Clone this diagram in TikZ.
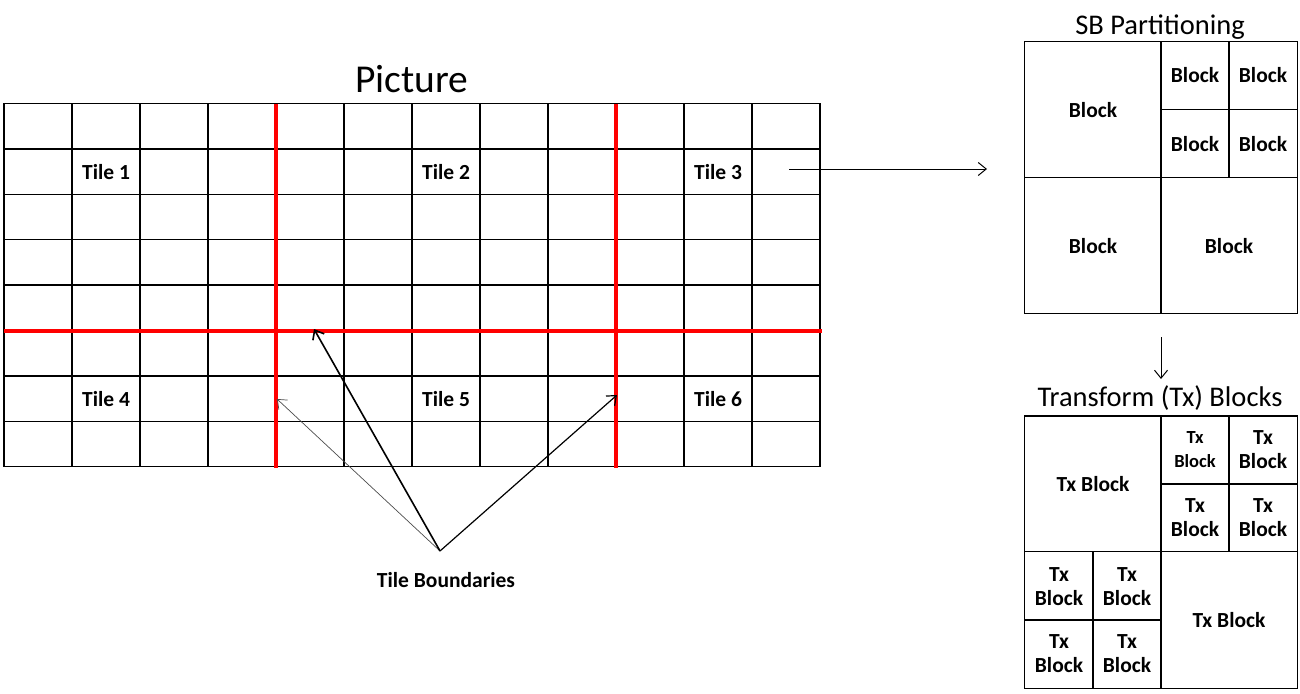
\documentclass[tikz,border=0pt]{standalone}
\usepackage{fontspec}
\setmainfont{Carlito}
\usetikzlibrary{arrows.meta}
\begin{document}
\begin{tikzpicture}[x=1pt,y=-1pt,
  gridline/.style={line width=1.5pt, line cap=rect},
  redline/.style={red, line width=4pt},
  boxline/.style={line width=1.5pt},
  lbl/.style={font=\bfseries\fontsize{21.5}{24}\selectfont, inner sep=0pt, align=center},
  smalllbl/.style={font=\bfseries\fontsize{18.5}{24}\selectfont, inner sep=0pt, align=center},
  ttl/.style={font=\fontsize{28.5}{32}\selectfont, inner sep=0pt},
  bigttl/.style={font=\fontsize{39.5}{44}\selectfont, inner sep=0pt},
  barb/.style={-{Straight Barb[length=8pt,width=13pt]}}]
\path[use as bounding box] (0,0) rectangle (1300,693);

% ---- Picture grid ----
\foreach \i in {0,...,12} \draw[gridline] ({4+68*\i},103.5) -- ({4+68*\i},466.7);
\foreach \j in {0,...,8} \draw[gridline] (4,{103.5+45.4*\j}) -- (820,{103.5+45.4*\j});
\draw[redline] (276,103.5) -- (276,468);
\draw[redline] (616,103.5) -- (616,468);
\draw[redline] (4,330.5) -- (822,330.5);

\node[bigttl] (pic) at (412,79) {Picture};
\node[lbl] (t1) at (106,172) {Tile 1};
\node[lbl] (t2) at (446,172) {Tile 2};
\node[lbl] (t3) at (718,172) {Tile 3};
\node[lbl] (t4) at (106,399) {Tile 4};
\node[lbl] (t5) at (446,399) {Tile 5};
\node[lbl] (t6) at (718,399) {Tile 6};

% ---- Tile boundaries ----
\node[lbl] (tb) at (446,580) {Tile Boundaries};
\coordinate (apex) at (440,551);
\coordinate (bl) at (277,399);
\coordinate (bm) at (314,329);
\coordinate (br) at (617,395);
\draw[barb, line width=0.7pt, black!70] (apex) -- (bl);
\draw[barb, line width=1.6pt] (apex) -- (bm);
\draw[barb, line width=1.2pt] (apex) -- (br);

% ---- Tile 3 arrow ----
\coordinate (a3s) at (789,169);
\coordinate (a3e) at (987,169);
\draw[barb, line width=1pt] (a3s) -- (a3e);

% ---- SB partitioning ----
\node[ttl] (sbt) at (1160,27) {SB Partitioning};
\draw[boxline] (1024.3,41.7) rectangle (1297.3,313.3);
\draw[boxline] (1161,41.7) -- (1161,313.3);
\draw[boxline] (1024.3,177.3) -- (1297.3,177.3);
\draw[boxline] (1229,41.7) -- (1229,177.3);
\draw[boxline] (1161,109.7) -- (1297.3,109.7);
\node[lbl] (sb1) at (1093,110) {Block};
\node[lbl] (sb2) at (1195,75) {Block};
\node[lbl] (sb3) at (1263,75) {Block};
\node[lbl] (sb4) at (1195,144) {Block};
\node[lbl] (sb5) at (1263,144) {Block};
\node[lbl] (sb6) at (1093,246) {Block};
\node[lbl] (sb7) at (1229,246) {Block};

% ---- down arrow ----
\coordinate (ds) at (1161,337);
\coordinate (de) at (1161,379);
\draw[barb, line width=1pt] (ds) -- (de);

% ---- Transform blocks ----
\node[ttl] (txt) at (1160,398) {Transform (Tx) Blocks};
\draw[boxline] (1024.3,416) rectangle (1297.3,688.3);
\draw[boxline] (1161,416) -- (1161,688.3);
\draw[boxline] (1024.3,551.7) -- (1297.3,551.7);
\draw[boxline] (1229,416) -- (1229,551.7);
\draw[boxline] (1161,484) -- (1297.3,484);
\draw[boxline] (1093,551.7) -- (1093,688.3);
\draw[boxline] (1024.3,620) -- (1161,620);
\node[lbl] (tx1) at (1093,484) {Tx Block};
\node[smalllbl] (tx2) at (1195,450) {Tx\\Block};
\node[lbl] (tx3) at (1263,450) {Tx\\Block};
\node[lbl] (tx4) at (1195,518) {Tx\\Block};
\node[lbl] (tx5) at (1263,518) {Tx\\Block};
\node[lbl] (tx6) at (1059,587) {Tx\\Block};
\node[lbl] (tx7) at (1127,587) {Tx\\Block};
\node[lbl] (tx8) at (1059,654) {Tx\\Block};
\node[lbl] (tx9) at (1127,654) {Tx\\Block};
\node[lbl] (tx10) at (1229,620) {Tx Block};
\end{tikzpicture}
\end{document}
